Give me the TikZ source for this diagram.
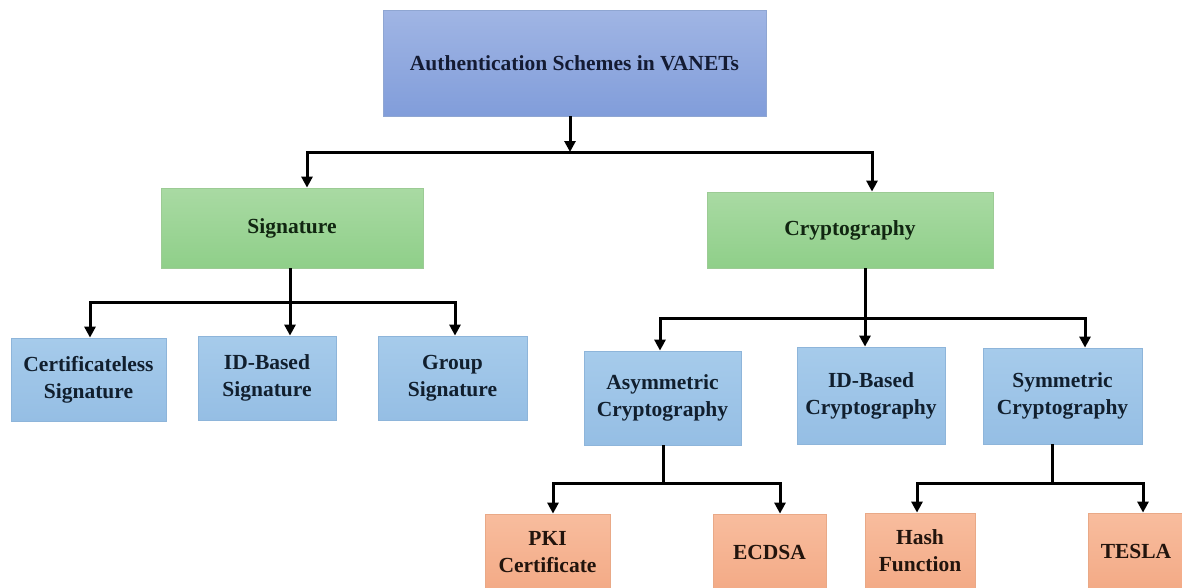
\documentclass[tikz,border=0pt]{standalone}
\usepackage{fontspec}
\setmainfont{Liberation Serif}
\usetikzlibrary{arrows.meta}
\definecolor{topA}{HTML}{A0B5E4}
\definecolor{topB}{HTML}{819DDA}
\definecolor{topD}{HTML}{8FA6D2}
\definecolor{grA}{HTML}{A9DAA3}
\definecolor{grB}{HTML}{8FCF89}
\definecolor{grD}{HTML}{9CCB95}
\definecolor{blA}{HTML}{A6CBEB}
\definecolor{blB}{HTML}{95BEE4}
\definecolor{blD}{HTML}{8EB5DA}
\definecolor{saA}{HTML}{F8BD9E}
\definecolor{saB}{HTML}{F3AA86}
\definecolor{saD}{HTML}{E9A987}
\definecolor{txTop}{HTML}{141B33}
\definecolor{txGr}{HTML}{112611}
\definecolor{txBl}{HTML}{111F2E}
\definecolor{txSa}{HTML}{22140D}
\tikzset{
  base/.style={rectangle, inner sep=2pt, align=center, line width=0.8pt,
    font=\bfseries\fontsize{21.5}{27}\selectfont},
  topbox/.style={base, top color=topA, bottom color=topB, draw=topD, text=txTop},
  greenbox/.style={base, top color=grA, bottom color=grB, draw=grD, text=txGr},
  bluebox/.style={base, top color=blA, bottom color=blB, draw=blD, text=txBl},
  salmonbox/.style={base, top color=saA, bottom color=saB, draw=saD, text=txSa},
  conn/.style={line width=3pt, black},
  arr/.style={conn, -{Triangle[length=11pt,width=11pt]}},
}
\begin{document}
\begin{tikzpicture}[x=1pt,y=-1pt]
\clip (0,0) rectangle (1182,587);
\fill[white] (0,0) rectangle (1182,587);

% nodes
\node[topbox, minimum width=383pt, minimum height=106pt] (top) at (574.5,63) {Authentication Schemes in VANETs};
\node[greenbox, minimum width=262pt, minimum height=80pt] (sig) at (292,228) {Signature};
\node[greenbox, minimum width=286pt, minimum height=76pt] (cry) at (850,230) {Cryptography};

\node[bluebox, minimum width=155pt, minimum height=83pt] (cs) at (88.5,379.5) {Certificateless\\Signature};
\node[bluebox, minimum width=138pt, minimum height=84pt] (ids) at (267,378) {ID-Based\\Signature};
\node[bluebox, minimum width=149pt, minimum height=84pt] (grp) at (452.5,378) {Group\\Signature};

\node[bluebox, minimum width=157pt, minimum height=94pt] (asy) at (662.5,398) {Asymmetric\\Cryptography};
\node[bluebox, minimum width=148pt, minimum height=97pt] (idc) at (871,395.5) {ID-Based\\Cryptography};
\node[bluebox, minimum width=159pt, minimum height=96pt] (sym) at (1062.5,396) {Symmetric\\Cryptography};

\node[salmonbox, minimum width=125pt, minimum height=76pt] (pki) at (547.5,552) {PKI\\Certificate};
\node[salmonbox, minimum width=113pt, minimum height=76pt] (ecd) at (769.5,552) {ECDSA};
\node[salmonbox, minimum width=110pt, minimum height=76pt] (hash) at (920,551) {Hash\\Function};
\node[salmonbox, minimum width=96pt, minimum height=76pt] (tesla) at (1136,551) {TESLA};

% junction coordinates
\coordinate (j0) at (570,152);
\coordinate (j0l) at (307,152);
\coordinate (j0r) at (872,152);
\coordinate (j1) at (290,302);
\coordinate (j1l) at (90,302);
\coordinate (j1r) at (455,302);
\coordinate (j2) at (865,318);
\coordinate (j2l) at (660,318);
\coordinate (j2r) at (1085,318);
\coordinate (j3) at (663,483);
\coordinate (j3l) at (553,483);
\coordinate (j3r) at (780,483);
\coordinate (j4) at (1052,483);
\coordinate (j4l) at (917,483);
\coordinate (j4r) at (1143,483);

% connectors: level 1
\draw[arr] (j0 |- top.south) -- (j0);
\draw[arr] (j0) -- (j0l) -- (j0l |- sig.north);
\draw[arr] (j0) -- (j0r) -- (j0r |- cry.north);

% signature
\draw[conn] (j1 |- sig.south) -- (j1);
\draw[arr] (j1) -- (j1l) -- (j1l |- cs.north);
\draw[arr] (j1) -- (j1 |- ids.north);
\draw[arr] (j1) -- (j1r) -- (j1r |- grp.north);

% cryptography
\draw[conn] (j2 |- cry.south) -- (j2);
\draw[arr] (j2) -- (j2l) -- (j2l |- asy.north);
\draw[arr] (j2) -- (j2 |- idc.north);
\draw[arr] (j2) -- (j2r) -- (j2r |- sym.north);

% asymmetric
\draw[conn] (j3 |- asy.south) -- (j3);
\draw[arr] (j3) -- (j3l) -- (j3l |- pki.north);
\draw[arr] (j3) -- (j3r) -- (j3r |- ecd.north);

% symmetric
\draw[conn] (j4 |- sym.south) -- (j4);
\draw[arr] (j4) -- (j4l) -- (j4l |- hash.north);
\draw[arr] (j4) -- (j4r) -- (j4r |- tesla.north);
\end{tikzpicture}
\end{document}
